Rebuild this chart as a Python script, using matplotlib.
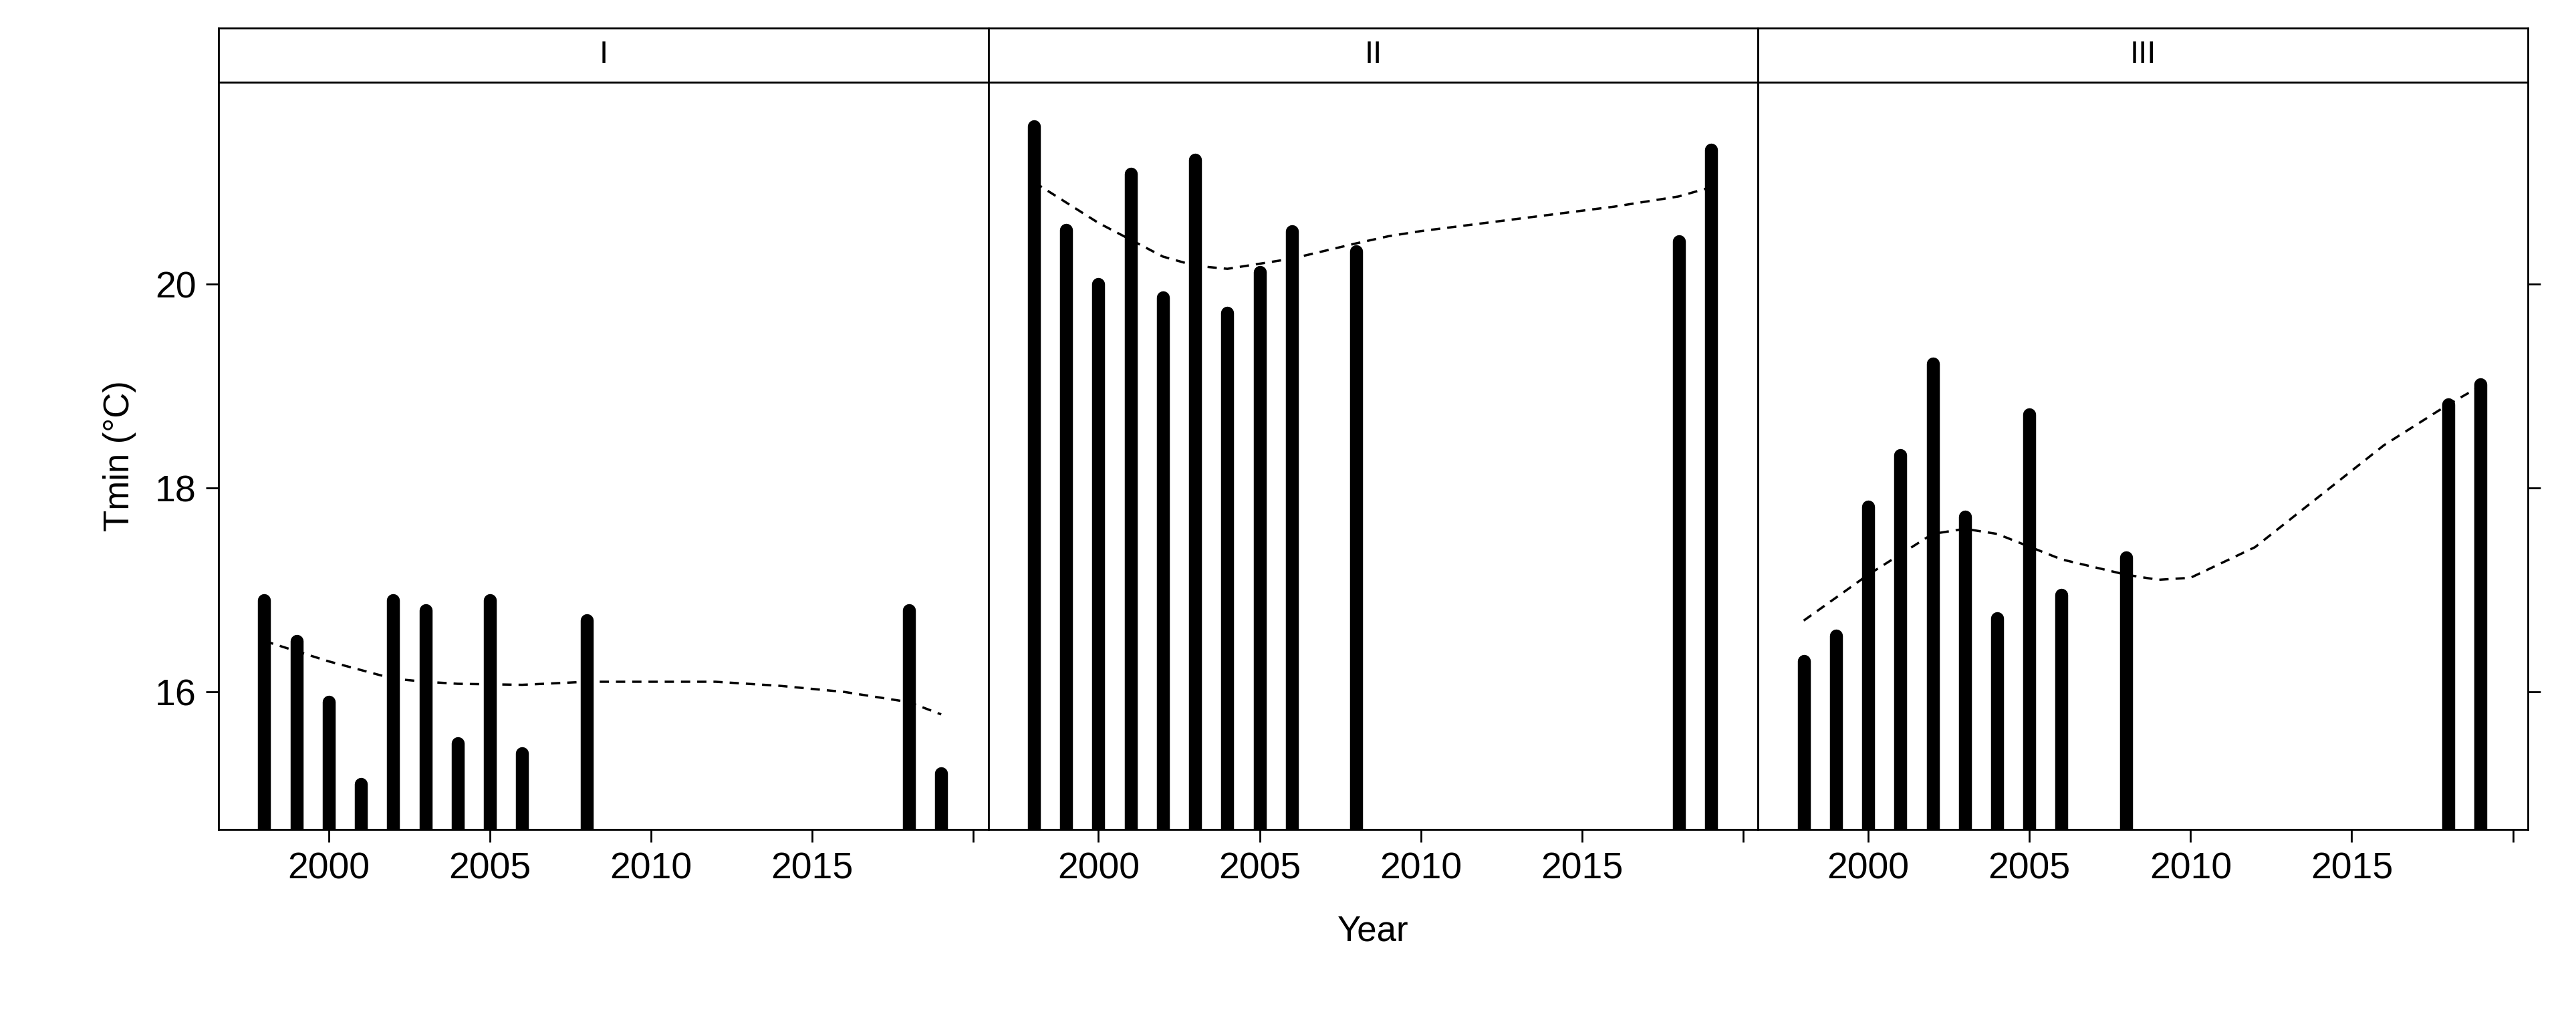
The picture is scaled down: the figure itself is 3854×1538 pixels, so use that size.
import matplotlib
matplotlib.use('Agg')
import matplotlib.pyplot as plt

plt.rcParams['font.family'] = ['Liberation Sans', 'DejaVu Sans']

panels = ['I', 'II', 'III']
years = [1998, 1999, 2000, 2001, 2002, 2003, 2004, 2005, 2006, 2008, 2018, 2019]
tmin = {
    'I':   [16.9, 16.5, 15.9, 15.1, 16.9, 16.8, 15.5, 16.9, 15.4, 16.7, 16.8, 15.2],
    'II':  [21.55, 20.53, 20.0, 21.08, 19.87, 21.22, 19.72, 20.12, 20.52, 20.32, 20.42, 21.32],
    'III': [16.3, 16.55, 17.82, 18.32, 19.22, 17.72, 16.72, 18.72, 16.95, 17.32, 18.82, 19.02],
}
smooth_years = [1998, 2000, 2002, 2003, 2004, 2006, 2008, 2009, 2010, 2012, 2014, 2016, 2018, 2019]
smooth = {
    'I':   [16.5, 16.3, 16.13, 16.1, 16.08, 16.07, 16.1, 16.1, 16.1, 16.1, 16.06, 16.0, 15.9, 15.78],
    'II':  [21.0, 20.6, 20.27, 20.18, 20.15, 20.25, 20.4, 20.47, 20.52, 20.6, 20.68, 20.76, 20.86, 20.95],
    'III': [16.7, 17.15, 17.55, 17.6, 17.55, 17.3, 17.15, 17.1, 17.12, 17.42, 17.92, 18.42, 18.82, 19.0],
}

fig = plt.figure(figsize=(38.55, 15.38), dpi=100)
left, right = 0.0848, 0.981
bottom, top, strip_top = 0.193, 0.920, 0.973
w = (right - left) / 3

for i, p in enumerate(panels):
    ax = fig.add_axes([left + i * w, bottom, w, top - bottom])
    lc = ax.vlines(years, 0, tmin[p], colors='black', linewidth=14)
    lc.set_capstyle('round')
    ax.plot(smooth_years, smooth[p], '--', color='black', linewidth=2.5, dashes=(4, 3))
    ax.set_xlim(1996.58, 2020.46)
    ax.set_ylim(14.65, 21.98)
    ax.set_xticks([2000, 2005, 2010, 2015, 2020])
    ax.set_xticklabels(['2000', '2005', '2010', '2015', ''])
    ax.set_yticks([16, 18, 20])
    ax.tick_params(axis='both', direction='out', length=14, width=2, labelsize=40, pad=10)
    ax.tick_params(axis='y', left=(i == 0), labelleft=(i == 0), right=(i == 2))
    for s in ax.spines.values():
        s.set_linewidth(2)
    if i == 0:
        ax.set_ylabel('Tmin (°C)', fontsize=38, labelpad=20)
    if i == 1:
        ax.set_xlabel('Year', fontsize=38, labelpad=30)

    sax = fig.add_axes([left + i * w, top, w, strip_top - top])
    sax.set_xticks([])
    sax.set_yticks([])
    for s in sax.spines.values():
        s.set_linewidth(2)
    sax.text(0.5, 0.5, p, ha='center', va='center', fontsize=34, transform=sax.transAxes)

fig.savefig('out.png', dpi=100)
